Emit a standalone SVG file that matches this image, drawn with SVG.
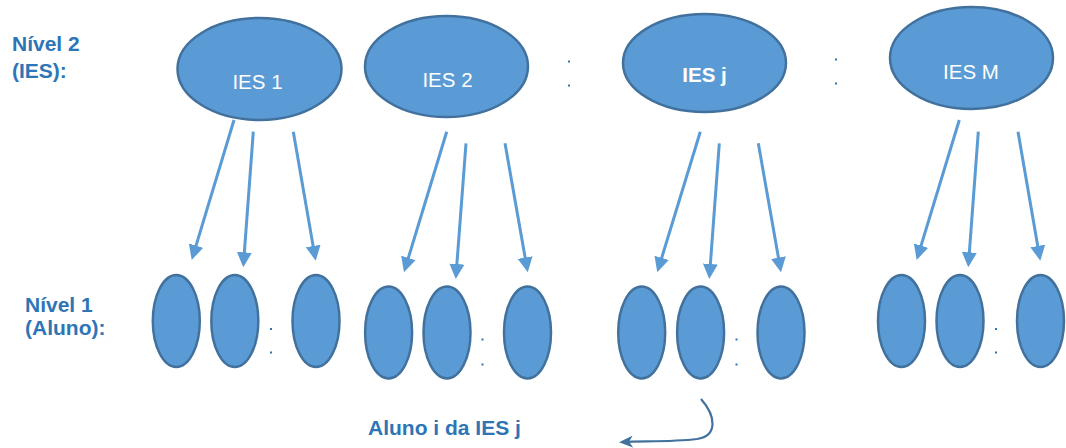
<svg xmlns="http://www.w3.org/2000/svg" width="1066" height="448" viewBox="0 0 1066 448">
  <style>
    .node { fill: #5B9BD5; stroke: #41719C; stroke-width: 2.5; }
    .ntext { font-family: "Liberation Sans", Arial, sans-serif; font-size: 20.5px; fill: #FFFFFF; text-anchor: middle; }
    .bold { font-weight: bold; }
    .label { font-family: "Liberation Sans", Arial, sans-serif; font-size: 21px; font-weight: bold; fill: #2E75B6; }
    .link { stroke: #5B9BD5; stroke-width: 3; fill: none; marker-end: url(#head); }
    .dot { fill: #2E75B6; }
    .note { stroke: #41719C; stroke-width: 2.2; fill: none; marker-end: url(#curl); }
  </style>
  <defs>
    <marker id="head" markerUnits="userSpaceOnUse" markerWidth="15" markerHeight="15" refX="5" refY="7.5" orient="auto">
      <path d="M0,0 L15,7.5 L0,15 z" fill="#5B9BD5"/>
    </marker>
    <marker id="curl" markerUnits="userSpaceOnUse" markerWidth="14" markerHeight="12" refX="10" refY="6" orient="auto">
      <path d="M0,0 L14,6 L0,12 L4,6 z" fill="#41719C"/>
    </marker>
  </defs>

  <!-- level labels -->
  <g id="label-nivel2">
    <text class="label" x="12" y="51">Nível 2</text>
    <text class="label" x="12" y="78">(IES):</text>
  </g>
  <g id="label-nivel1">
    <text class="label" x="25" y="312">Nível 1</text>
    <text class="label" x="25" y="335">(Aluno):</text>
  </g>

  <!-- level 2 institutions -->
  <g id="ies-1">
    <ellipse class="node" cx="259.5" cy="69" rx="82" ry="51"/>
    <text class="ntext" x="257.5" y="89">IES 1</text>
  </g>
  <g id="ies-2">
    <ellipse class="node" cx="446.5" cy="66.5" rx="81.5" ry="50.5"/>
    <text class="ntext" x="447.5" y="87">IES 2</text>
  </g>
  <g id="ies-j">
    <ellipse class="node" cx="704.5" cy="63" rx="81.5" ry="49"/>
    <text class="ntext bold" x="704.5" y="82">IES j</text>
  </g>
  <g id="ies-m">
    <ellipse class="node" cx="971.5" cy="58" rx="81.5" ry="51"/>
    <text class="ntext" x="971" y="79">IES M</text>
  </g>

  <!-- ellipsis between institutions -->
  <g id="dots-top">
    <rect class="dot" x="568" y="60.5" width="2" height="2"/>
    <rect class="dot" x="568" y="84.5" width="2" height="2"/>
    <rect class="dot" x="835" y="58.5" width="2" height="2"/>
    <rect class="dot" x="835" y="82.5" width="2" height="2"/>
  </g>

  <!-- level 1 students, one group per institution -->
  <g id="alunos-ies-1">
    <ellipse class="node" cx="176.3" cy="321" rx="23.5" ry="46"/>
    <ellipse class="node" cx="234.8" cy="321" rx="23.5" ry="46"/>
    <ellipse class="node" cx="316" cy="321" rx="23.5" ry="46"/>
    <rect class="dot" x="270" y="328" width="2" height="2"/>
    <rect class="dot" x="270" y="351.5" width="2" height="2"/>
  </g>
  <g id="alunos-ies-2">
    <ellipse class="node" cx="388.6" cy="332.5" rx="23.5" ry="46"/>
    <ellipse class="node" cx="447" cy="332.5" rx="23.5" ry="46"/>
    <ellipse class="node" cx="527.5" cy="332.5" rx="23.5" ry="46"/>
    <rect class="dot" x="481.5" y="338.5" width="2" height="2"/>
    <rect class="dot" x="481.5" y="363.5" width="2" height="2"/>
  </g>
  <g id="alunos-ies-j">
    <ellipse class="node" cx="641.7" cy="332.5" rx="23.5" ry="46"/>
    <ellipse class="node" cx="700.6" cy="332.5" rx="23.5" ry="46"/>
    <ellipse class="node" cx="781" cy="332.5" rx="23.5" ry="46"/>
    <rect class="dot" x="735.5" y="338.5" width="2" height="2"/>
    <rect class="dot" x="735.5" y="363.5" width="2" height="2"/>
  </g>
  <g id="alunos-ies-m">
    <ellipse class="node" cx="901.5" cy="321" rx="23.5" ry="46"/>
    <ellipse class="node" cx="960" cy="321" rx="23.5" ry="46"/>
    <ellipse class="node" cx="1040.5" cy="321" rx="23.5" ry="46"/>
    <rect class="dot" x="995" y="328" width="2" height="2"/>
    <rect class="dot" x="995" y="351.5" width="2" height="2"/>
  </g>

  <!-- connectors from each institution to its students -->
  <g id="connectors">
    <line class="link" x1="234" y1="120" x2="194.6" y2="250.4"/>
    <line class="link" x1="253.3" y1="131.7" x2="244" y2="257.3"/>
    <line class="link" x1="293.3" y1="131.7" x2="314" y2="250.9"/>

    <line class="link" x1="446.7" y1="131.7" x2="406.9" y2="262.7"/>
    <line class="link" x1="466" y1="143.3" x2="456.5" y2="269"/>
    <line class="link" x1="505" y1="143.3" x2="526" y2="262.5"/>

    <line class="link" x1="700.3" y1="131.7" x2="660.2" y2="262.7"/>
    <line class="link" x1="719.3" y1="143.3" x2="710" y2="269"/>
    <line class="link" x1="758.3" y1="143.3" x2="779.3" y2="262.5"/>

    <line class="link" x1="959.3" y1="120" x2="919.6" y2="250.4"/>
    <line class="link" x1="978.3" y1="131.7" x2="969" y2="257.3"/>
    <line class="link" x1="1018" y1="131.7" x2="1038.6" y2="250.9"/>

    <path class="note" d="M701,399 C716,416 718,436 697,439 C672,442 645,441 623,442"/>
  </g>

  <g id="label-aluno">
    <text class="label" x="368" y="435">Aluno i da IES j</text>
  </g>
</svg>
